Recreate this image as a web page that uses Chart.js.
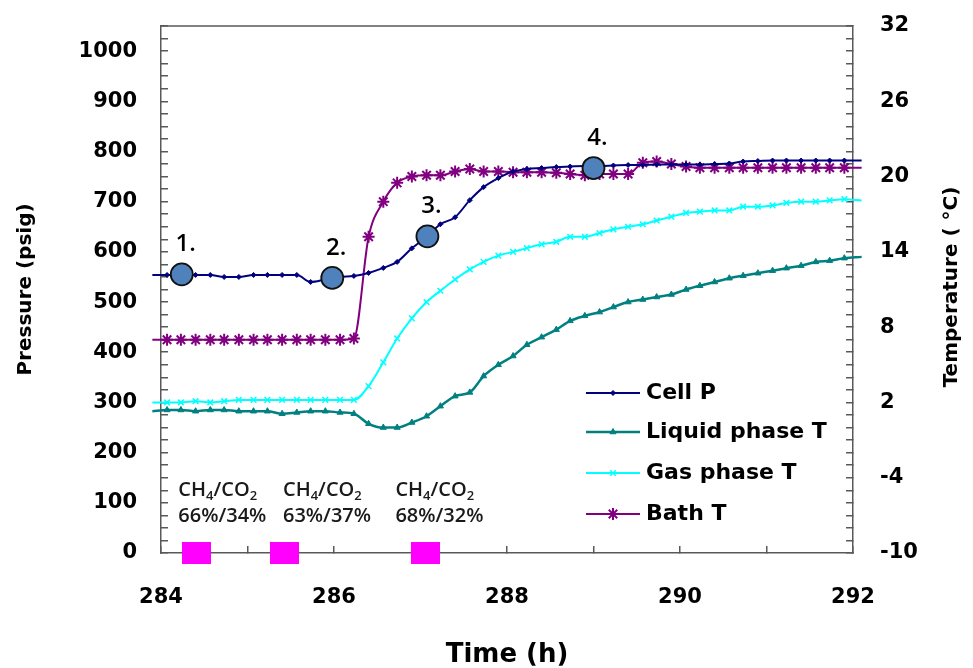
<!DOCTYPE html>
<html>
<head>
<meta charset="utf-8">
<script src="https://cdn.jsdelivr.net/npm/chart.js@4.4.1/dist/chart.umd.min.js"></script>
<style>
  html, body { margin: 0; padding: 0; background: #fff; }
  #wrap { width: 973px; height: 668px; }
</style>
</head>
<body>
<div id="wrap"><canvas id="hydrateChart" width="973" height="668"></canvas></div>
<script>
// time (h), one reading every ~10 min
const times = [283.9, 284.07, 284.23, 284.4, 284.57, 284.73, 284.9, 285.07, 285.23, 285.4,
  285.57, 285.73, 285.9, 286.07, 286.23, 286.4, 286.57, 286.73, 286.9, 287.07,
  287.23, 287.4, 287.57, 287.73, 287.9, 288.07, 288.23, 288.4, 288.57, 288.73,
  288.9, 289.07, 289.23, 289.4, 289.57, 289.73, 289.9, 290.07, 290.23, 290.4,
  290.57, 290.73, 290.9, 291.07, 291.23, 291.4, 291.57, 291.73, 291.9, 292.1];

// psig
const cellP = [554, 554, 555, 554, 554, 550, 550, 554, 554, 554,
  554, 540, 545, 550, 552, 558, 568, 580, 607, 630,
  655, 669, 703, 729, 747, 760, 765, 767, 769, 770,
  771, 771, 772, 773, 773, 774, 774, 774, 774, 775,
  776, 780, 781, 782, 782, 782, 782, 782, 782, 782];

// degC
const liquidT = [1.3, 1.4, 1.4, 1.3, 1.4, 1.4, 1.3, 1.3, 1.3, 1.1,
  1.2, 1.3, 1.3, 1.2, 1.1, 0.3, 0.0, 0.0, 0.4, 0.9,
  1.7, 2.5, 2.8, 4.1, 5.0, 5.7, 6.6, 7.2, 7.8, 8.5,
  8.9, 9.2, 9.6, 10.0, 10.2, 10.4, 10.6, 11.0, 11.3, 11.6,
  11.9, 12.1, 12.3, 12.5, 12.7, 12.9, 13.2, 13.3, 13.5, 13.6];

const gasT = [2.0, 2.0, 2.0, 2.1, 2.0, 2.1, 2.2, 2.2, 2.2, 2.2,
  2.2, 2.2, 2.2, 2.2, 2.2, 3.3, 5.2, 7.1, 8.7, 10.0,
  10.9, 11.8, 12.6, 13.2, 13.7, 14.0, 14.3, 14.6, 14.8, 15.2,
  15.2, 15.5, 15.8, 16.0, 16.2, 16.5, 16.8, 17.1, 17.2, 17.3,
  17.3, 17.6, 17.6, 17.7, 17.9, 18.0, 18.0, 18.1, 18.2, 18.1];

const bathT = [7.0, 7.0, 7.0, 7.0, 7.0, 7.0, 7.0, 7.0, 7.0, 7.0,
  7.0, 7.0, 7.0, 7.0, 7.1, 15.2, 18.0, 19.5, 20.0, 20.1,
  20.1, 20.4, 20.6, 20.4, 20.4, 20.35, 20.35, 20.35, 20.3, 20.2,
  20.1, 20.2, 20.2, 20.2, 21.1, 21.2, 21.0, 20.8, 20.7, 20.7,
  20.7, 20.7, 20.7, 20.7, 20.7, 20.7, 20.7, 20.7, 20.7, 20.7];

// numbered sampling points on the pressure curve
const stageTimes = [284.24, 285.98, 287.08, 289.0];
const stagePressures = [555, 548, 631, 767];
const stageLabels = ['1.', '2.', '3.', '4.'];

// gas feed injections
const feedTimes = [284.41, 285.43, 287.06];
const feedTextTimes = [284.2, 285.41, 286.71];
const feedRatios = ['66%/34%', '63%/37%', '68%/32%'];

// tick labels
const timeTicks = [284, 286, 288, 290, 292];
const pressureTicks = [0, 100, 200, 300, 400, 500, 600, 700, 800, 900, 1000];
const tempTicks = [-10, -4, 2, 8, 14, 20, 26, 32];

const axisColor = '#595959';
const tickFont = { family: 'DejaVu Sans', size: 21, weight: 'bold' };

function pairs(values) {
  return times.map((t, i) => ({ x: t, y: values[i] }));
}

// the tick padding should not push the plot area around
function pinScale(size) {
  return s => {
    if (s.isHorizontal()) s.height = size; else s.width = size;
    s.paddingTop = 0; s.paddingBottom = 0; s.paddingLeft = 0; s.paddingRight = 0;
  };
}

// magenta block used as the point style of the feed markers
const feedMark = document.createElement('canvas');
feedMark.width = 29; feedMark.height = 22;
const fm = feedMark.getContext('2d');
fm.fillStyle = '#FF00FF';
fm.fillRect(0, 0, 29, 22);

const lineSets = [
  { label: 'Cell P', data: pairs(cellP), yAxisID: 'y', borderColor: '#000080', backgroundColor: '#000080',
    pointStyle: 'rectRot', pointRadius: 2.5, pointBorderWidth: 1, borderWidth: 2 },
  { label: 'Liquid phase T', data: pairs(liquidT), yAxisID: 'y2', borderColor: '#008080', backgroundColor: '#008080',
    pointStyle: 'triangle', pointRadius: 3.5, pointBorderWidth: 1, borderWidth: 2.5 },
  { label: 'Gas phase T', data: pairs(gasT), yAxisID: 'y2', borderColor: '#00FFFF', backgroundColor: '#00FFFF',
    pointStyle: 'crossRot', pointRadius: 4, pointBorderWidth: 1.5, borderWidth: 2 },
  { label: 'Bath T', data: pairs(bathT), yAxisID: 'y2', borderColor: '#800080', backgroundColor: '#800080',
    pointStyle: 'star', pointRadius: 6, pointBorderWidth: 2, borderWidth: 2 }
];
lineSets.forEach((ds, i) => {
  ds.cubicInterpolationMode = 'monotone';
  ds.clip = false;
  ds.order = 2 + i;
});

const datasets = lineSets.concat([
  { label: 'stages', data: stageTimes.map((t, i) => ({ x: t, y: stagePressures[i] })), yAxisID: 'y',
    showLine: false, pointRadius: 11, pointBackgroundColor: '#4F81BD', pointBorderColor: '#111',
    pointBorderWidth: 1.8, clip: false, order: 0 },
  { label: 'feeds', data: feedTimes.map(t => ({ x: t, y: 0 })), yAxisID: 'y',
    showLine: false, pointStyle: feedMark, clip: false, order: 0 }
]);

function drawFormula(ctx, x, yBase) {
  const parts = [['CH', false], ['4', true], ['/CO', false], ['2', true]];
  let cx = x;
  parts.forEach(([t, sub]) => {
    ctx.font = sub ? '600 13px "Open Sans"' : '600 20px "Open Sans"';
    ctx.fillText(t, cx, yBase + (sub ? 4 : 0));
    cx += ctx.measureText(t).width;
  });
}

const extras = {
  id: 'extras',
  beforeDatasetsDraw(chart) {
    const { ctx, chartArea } = chart;
    ctx.save();
    ctx.strokeStyle = axisColor;
    ctx.lineWidth = 1.5;
    ctx.beginPath();
    ctx.moveTo(chartArea.left, chartArea.top);
    ctx.lineTo(chartArea.right, chartArea.top);
    ctx.stroke();
    ctx.restore();
  },
  afterDatasetsDraw(chart) {
    const { ctx, scales: { x, y } } = chart;
    ctx.save();
    ctx.fillStyle = '#000';

    // stage numbers above the circles
    ctx.font = '600 24px "Open Sans"';
    ctx.textAlign = 'center';
    ctx.textBaseline = 'alphabetic';
    stageTimes.forEach((t, i) => {
      ctx.fillText(stageLabels[i], x.getPixelForValue(t) + 4, y.getPixelForValue(stagePressures[i]) - 23);
    });

    // feed gas compositions
    ctx.textAlign = 'left';
    ctx.fillStyle = '#1a1a1a';
    const base = y.getPixelForValue(0);
    feedTextTimes.forEach((t, i) => {
      const px = x.getPixelForValue(t);
      drawFormula(ctx, px, base - 57);
      ctx.font = '600 20px "Open Sans"';
      ctx.fillText(feedRatios[i], px, base - 31);
    });

    // legend
    const rows = [393, 432, 473, 514];
    ctx.textBaseline = 'middle';
    lineSets.forEach((ds, i) => {
      const ly = rows[i];
      ctx.strokeStyle = ds.borderColor;
      ctx.fillStyle = ds.borderColor;
      ctx.lineWidth = ds.borderWidth;
      ctx.beginPath();
      ctx.moveTo(586, ly);
      ctx.lineTo(640, ly);
      ctx.stroke();
      ctx.lineWidth = ds.pointBorderWidth;
      if (Chart.helpers && Chart.helpers.drawPoint) {
        Chart.helpers.drawPoint(ctx, { pointStyle: ds.pointStyle, radius: ds.pointRadius, rotation: 0, borderWidth: ds.pointBorderWidth }, 613, ly);
      }
      ctx.fillStyle = '#000';
      ctx.font = 'bold 22px "DejaVu Sans"';
      ctx.fillText(ds.label, 646, ly);
    });

    // right axis title reads bottom to top
    ctx.translate(952, 287);
    ctx.rotate(-Math.PI / 2);
    ctx.textAlign = 'center';
    ctx.font = 'bold 20px "DejaVu Sans"';
    ctx.fillText('Temperature ( \u00B0C)', 0, 0);
    ctx.restore();
  }
};

new Chart(document.getElementById('hydrateChart').getContext('2d'), {
  type: 'line',
  data: { datasets },
  options: {
    responsive: false,
    animation: false,
    devicePixelRatio: 1,
    layout: { padding: { top: 26, left: 0, right: 0, bottom: 0 } },
    plugins: { legend: { display: false }, tooltip: { enabled: false } },
    scales: {
      x: {
        type: 'linear', position: 'bottom', min: 284, max: 292,
        afterFit: pinScale(115),
        ticks: { stepSize: 1, autoSkip: false, maxRotation: 0, padding: 39, color: '#000', font: tickFont,
          callback: v => timeTicks.includes(v) ? String(v) : '' },
        grid: { drawOnChartArea: false, drawTicks: true, tickLength: -7, color: axisColor, lineWidth: 1.5 },
        border: { display: true, color: axisColor, width: 1.5 },
        title: { display: true, text: 'Time (h)', color: '#000', padding: { top: 0, bottom: 0 },
          font: { family: 'DejaVu Sans', size: 26, weight: 'bold', lineHeight: 1 } }
      },
      y: {
        type: 'linear', position: 'left', min: 0, max: 1050,
        afterFit: pinScale(161),
        ticks: { stepSize: 25, autoSkip: false, padding: 31, color: '#000', font: tickFont,
          callback: v => pressureTicks.includes(v) ? String(v) : '' },
        grid: { drawOnChartArea: false, drawTicks: true, tickLength: -7, color: axisColor, lineWidth: 1.5 },
        border: { display: true, color: axisColor, width: 1.5 },
        title: { display: true, text: 'Pressure (psig)', color: '#000', padding: { top: 14, bottom: 0 },
          font: { family: 'DejaVu Sans', size: 20, weight: 'bold' } }
      },
      y2: {
        type: 'linear', position: 'right', min: -10, max: 32,
        afterFit: pinScale(120),
        ticks: { stepSize: 1, autoSkip: false, padding: 34, color: '#000', font: tickFont,
          callback: v => tempTicks.includes(v) ? String(v) : '' },
        grid: { drawOnChartArea: false, drawTicks: true, tickLength: -7, color: axisColor, lineWidth: 1.5 },
        border: { display: true, color: axisColor, width: 1.5 }
      }
    }
  },
  plugins: [extras]
});
</script>
</body>
</html>
